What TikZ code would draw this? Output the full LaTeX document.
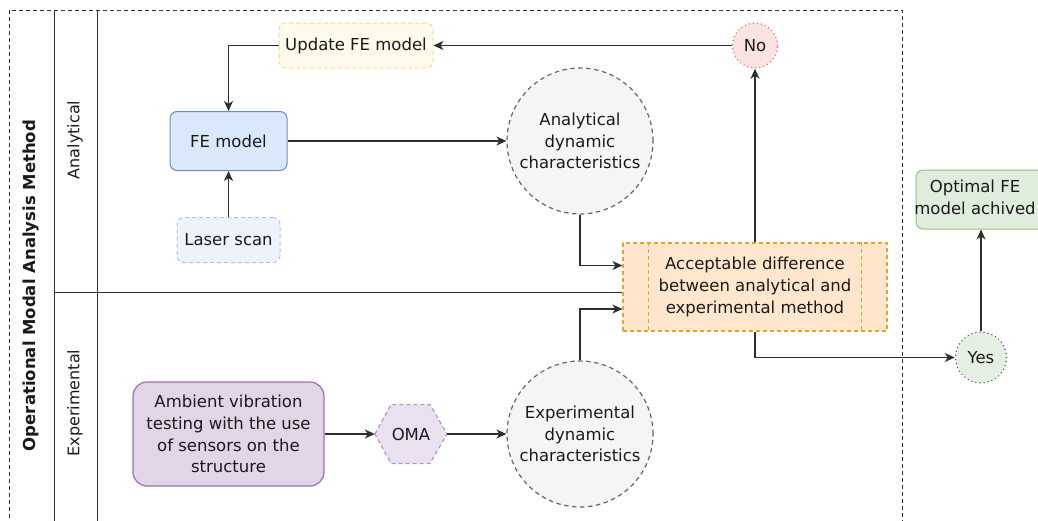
\documentclass[tikz,border=0pt]{standalone}
\usepackage{fontspec}
\setmainfont{DejaVu Sans}
\usetikzlibrary{arrows.meta}
\definecolor{txtc}{HTML}{1A1A1A}
\definecolor{linec}{HTML}{2E2E2E}
\definecolor{feF}{HTML}{DAE8FC}\definecolor{feD}{HTML}{6C8EBF}
\definecolor{lsF}{HTML}{EEF3FB}\definecolor{lsD}{HTML}{AFC4E6}
\definecolor{upF}{HTML}{FFFAEB}\definecolor{upD}{HTML}{F2DC9C}
\definecolor{noF}{HTML}{FBE3E1}\definecolor{noD}{HTML}{D9706B}
\definecolor{yesF}{HTML}{E6EFE4}\definecolor{yesD}{HTML}{555555}
\definecolor{acF}{HTML}{FFE6CC}\definecolor{acD}{HTML}{E5A42E}
\definecolor{opF}{HTML}{DFEDDD}\definecolor{opD}{HTML}{94C083}
\definecolor{amF}{HTML}{E1D5E7}\definecolor{amD}{HTML}{9673A6}
\definecolor{omF}{HTML}{E9E0F0}\definecolor{omD}{HTML}{B596C8}
\definecolor{ciF}{HTML}{F4F6F5}\definecolor{ciD}{HTML}{666666}
\tikzset{
  base/.style={inner sep=0pt, text=txtc, align=center, font=\fontsize{16.5}{21.7}\selectfont},
  rbox/.style={base, rectangle, rounded corners=7pt, line width=1pt},
  dashbox/.style={dash pattern=on 4pt off 3pt},
  dotc/.style={base, circle, line width=1.5pt, dash pattern=on 0.1pt off 4pt, line cap=round},
  bigc/.style={base, circle, minimum size=146pt, fill=ciF, draw=ciD, line width=1.2pt, dash pattern=on 4.5pt off 3.5pt},
  arr/.style={draw=linec, line width=1.4pt, -{Stealth[length=10pt,width=9pt,inset=3pt]}},
  lane/.style={draw=linec, line width=1pt},
}
\begin{document}
\begin{tikzpicture}[x=1pt,y=-1pt]
\useasboundingbox (0,0) rectangle (1038,520);
% pool
\draw[linec, line width=1pt, dash pattern=on 4pt off 3pt] (9,525) -- (9,10) -- (902,10) -- (902,525);
\draw[lane] (54,10) -- (54,525);
\draw[lane] (97,10) -- (97,525);
\node[base, rotate=90, font=\fontsize{16.5}{20}\selectfont\bfseries] (title) at (31,285.5) {Operational Modal Analysis Method};
\node[base, rotate=90, font=\fontsize{16}{20}\selectfont] (lana) at (75,140) {Analytical};
\node[base, rotate=90, font=\fontsize{16}{20}\selectfont] (lexp) at (75,403) {Experimental};
% nodes
\node[rbox, fill=upF, draw=upD, dashbox, minimum width=154pt, minimum height=45pt] (upd) at (356,45.5) {Update FE model};
\node[rbox, fill=feF, draw=feD, minimum width=117pt, minimum height=59pt] (fe) at (228.5,141) {FE model};
\node[rbox, fill=lsF, draw=lsD, dashbox, minimum width=103pt, minimum height=45pt] (laser) at (228.5,240) {Laser scan};
\node[dotc, fill=noF, draw=noD, minimum size=45pt] (no) at (755,45.5) {No};
\node[bigc] (adc) at (580,141) {Analytical\\dynamic\\characteristics};
\node[base, rectangle, fill=acF, draw=acD, line width=1.2pt, dashbox, minimum width=264pt, minimum height=88pt] (acc) at (755,287) {Acceptable difference\\between analytical and\\experimental method};
\draw[acD, line width=1.2pt, dashbox] ([xshift=26pt]acc.north west) -- ([xshift=26pt]acc.south west);
\draw[acD, line width=1.2pt, dashbox] ([xshift=-26pt]acc.north east) -- ([xshift=-26pt]acc.south east);
\node[rbox, fill=opF, draw=opD, minimum width=130pt, minimum height=59pt] (opt) at (981,199.5) {\kern-12pt\begin{tabular}{@{}c@{}}Optimal FE\\model achived\end{tabular}};
\node[dotc, fill=yesF, draw=yesD, minimum size=51pt] (yes) at (981,357.5) {Yes};
\node[bigc] (edc) at (580,434) {Experimental\\dynamic\\characteristics};
\node[rbox, rounded corners=14pt, fill=amF, draw=amD, line width=1.2pt, minimum width=191pt, minimum height=104pt] (amb) at (228.5,434) {Ambient vibration\\testing with the use\\of sensors on the\\structure};
\filldraw[fill=omF, draw=omD, line width=1.2pt, dashbox] (375,434) -- (391,404.5) -- (430,404.5) -- (447,434) -- (430,463.5) -- (391,463.5) -- cycle;
\node[base, minimum width=72pt, minimum height=59pt] (oma) at (411,434) {OMA};
% lane divider
\draw[lane] (54,292) -- (acc.west |- 0,292);
% connectors
\draw[arr] (fe.east) -- (adc.west);
\draw[arr] (laser.north) -- (fe.south);
\draw[arr] (upd.west) -| (fe.north);
\draw[arr] (no.west) -- (upd.east);
\draw[arr] (acc.north) -- (no.south);
\draw[arr] (adc.south) |- ([yshift=21.5pt]acc.west);
\draw[arr] (edc.north) |- ([yshift=-22pt]acc.west);
\draw[arr] (acc.south) |- (yes.west);
\draw[arr] (yes.north) -- (opt.south);
\draw[arr] (amb.east) -- (oma.west);
\draw[arr] (oma.east) -- (edc.west);
\end{tikzpicture}
\end{document}
